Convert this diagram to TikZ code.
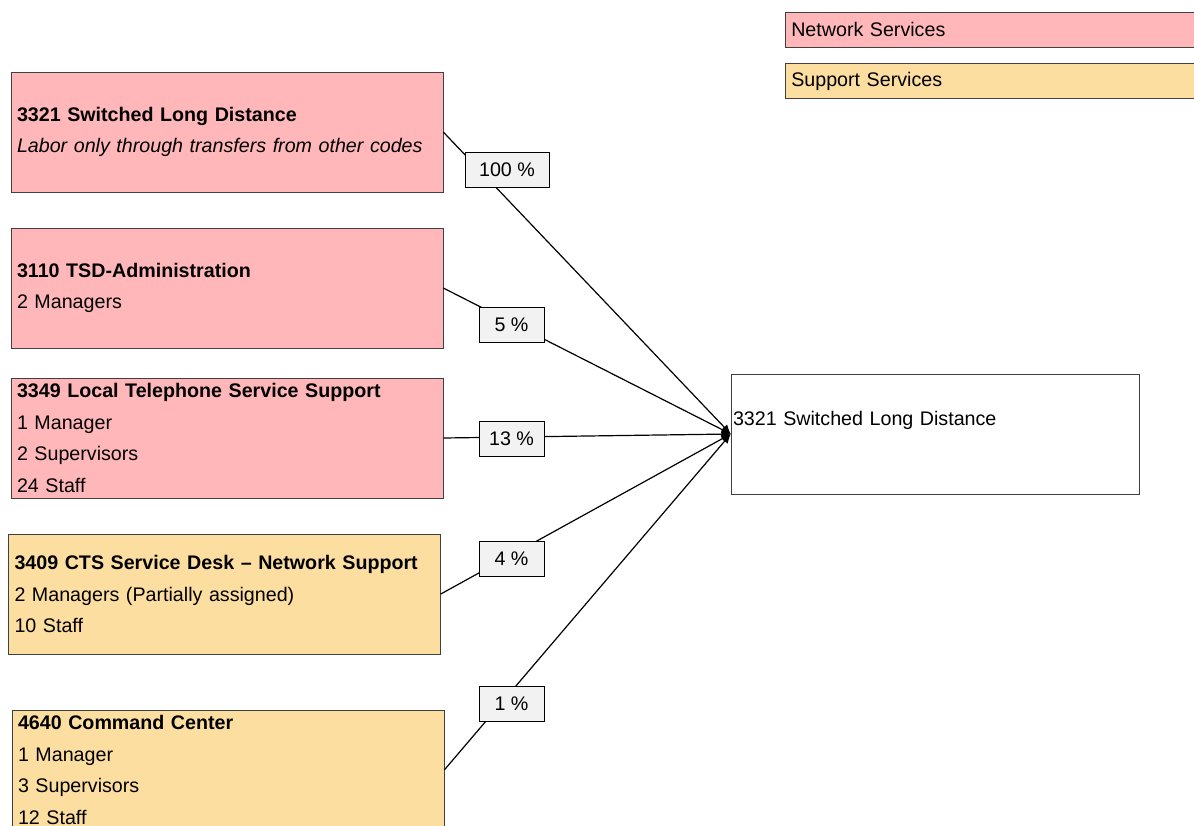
\documentclass[tikz,border=0pt]{standalone}
\usepackage{fontspec}
\setmainfont{Liberation Sans}
\usetikzlibrary{arrows.meta}
\definecolor{netpink}{RGB}{255,183,185}
\definecolor{suporange}{RGB}{252,222,160}
\definecolor{pctgray}{RGB}{242,242,242}
\definecolor{edgegray}{RGB}{64,64,64}

\begin{document}
\begin{tikzpicture}[x=0.75pt,y=-0.75pt,every node/.style={font=\fontsize{14.75}{23.8}\selectfont}]
\tikzset{
  unit/.style={rectangle, draw=edgegray, minimum width=324pt, minimum height=90pt, text width=315pt, inner xsep=4.5pt, align=left},
  pct/.style={rectangle, draw=black, fill=pctgray, minimum width=48.75pt, minimum height=26.25pt, inner sep=0},
  key/.style={rectangle, draw=edgegray, anchor=west, minimum height=26.25pt, text width=306pt, inner xsep=4.5pt, align=left},
  flow/.style={line width=0.9pt}
}
\clip (0,0) rectangle (1194,825);
% legend
\node[key, fill=netpink] (net) at (785,29.5) {Network Services};
\node[key, fill=suporange] (sup) at (785,81) {Support Services};
% cost units feeding the code
\node[unit, fill=netpink] (sld) at (227,132) {\textbf{3321 Switched Long Distance}\\ \textit{Labor only through transfers from other codes}};
\node[unit, fill=netpink] (tsd) at (227,288) {\textbf{3110 TSD-Administration}\\ 2 Managers};
\node[unit, fill=netpink] (lts) at (227,438) {\textbf{3349 Local Telephone Service Support}\\ 1 Manager\\ 2 Supervisors\\ 24 Staff};
\node[unit, fill=suporange] (cts) at (224.5,594) {\textbf{3409 CTS Service Desk -- Network Support}\\ 2 Managers (Partially assigned)\\ 10 Staff};
\node[unit, fill=suporange, minimum height=88.5pt] (cmd) at (228,770) {\textbf{4640 Command Center}\\ 1 Manager\\ 3 Supervisors\\ 12 Staff};
% target
\node[rectangle, draw=edgegray, fill=white, minimum width=306pt, minimum height=90pt, text width=303pt, inner xsep=1.5pt, align=left] (T) at (935,434) {3321 Switched Long Distance\\ \mbox{}};
\foreach \s in {sld, tsd, lts, cts, cmd}
  \draw[flow, -{Latex[length=7pt,width=6pt]}] (\s.east) -- (T.west);
% shares
\node[pct, minimum width=63pt] (p1) at (507,170) {100 \%};
\node[pct] (p2) at (511.5,324.5) {5 \%};
\node[pct] (p3) at (511.5,439) {13 \%};
\node[pct] (p4) at (511.5,558.5) {4 \%};
\node[pct] (p5) at (511.5,703.5) {1 \%};
\end{tikzpicture}
\end{document}
